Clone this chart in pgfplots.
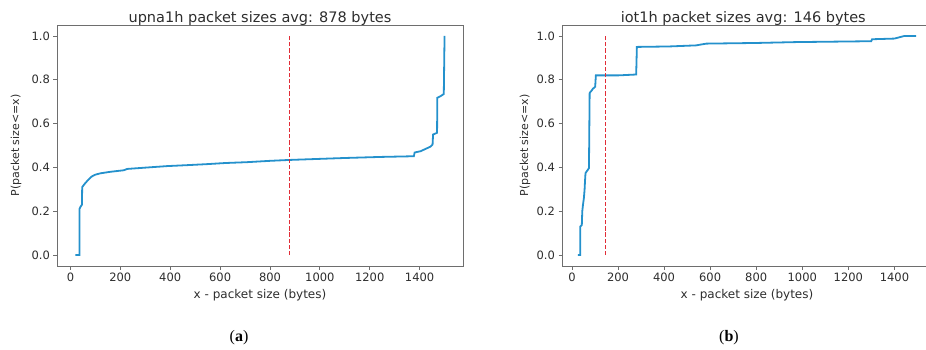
\documentclass[border=0pt]{standalone}
\usepackage{fontspec}
\setmainfont{DejaVu Sans}
\newfontfamily\capfont{Liberation Serif}
\usepackage{pgfplots}
\usepackage{pgfplotstable}
\pgfplotsset{compat=1.18}
\definecolor{cdfblue}{RGB}{36,145,204}
\definecolor{meanred}{RGB}{225,45,55}
\definecolor{spine}{RGB}{110,110,110}
\definecolor{txt}{RGB}{45,45,45}
\pgfplotstableread{
y
0.000
0.019
nan
0.028
0.047
nan
0.056
0.075
nan
0.084
0.103
nan
0.112
0.131
nan
0.140
0.159
nan
0.168
0.187
nan
0.196
0.215
nan
0.224
0.243
nan
0.252
0.271
nan
0.280
0.299
nan
0.308
0.327
nan
0.336
0.355
nan
0.364
0.383
nan
0.392
0.411
nan
0.420
0.439
nan
0.448
0.467
nan
0.476
0.495
nan
0.504
0.523
nan
0.532
0.551
nan
0.560
0.579
nan
0.588
0.607
nan
0.616
0.635
nan
0.644
0.663
nan
0.672
0.691
nan
0.700
0.719
nan
0.728
0.747
nan
0.756
0.775
nan
0.784
0.803
nan
0.812
0.831
nan
0.840
0.859
nan
0.868
0.887
nan
0.896
0.915
nan
0.924
0.943
nan
0.952
0.971
nan
0.980
1.000
}\dashes
\pgfplotsset{
  cdfstyle/.style={
    scale only axis,
    height=241pt,
    ymin=-0.05, ymax=1.05,
    ytick={0,0.2,0.4,0.6,0.8,1.0},
    xtick={0,200,400,600,800,1000,1200,1400},
    yticklabel style={/pgf/number format/.cd,fixed,fixed zerofill,precision=1},
    xticklabel style={/pgf/number format/1000 sep={}},
    /pgf/number format/assume math mode=true,
    scaled ticks=false,
    axis line style={spine, line width=0.9pt},
    tick style={spine, line width=0.8pt},
    tick align=outside,
    major tick length=3.5pt,
    xtick pos=bottom, ytick pos=left,
    ticklabel style={font=\fontsize{11.5}{13}\selectfont, text=txt},
    xlabel style={font=\fontsize{12}{14}\selectfont, text=txt},
    ylabel style={font=\fontsize{11}{13}\selectfont, text=txt},
    title style={font=\fontsize{14.5}{16}\selectfont, text=txt, at={(axis description cs:0.5,1)}, anchor=base, inner sep=0pt, yshift=-3pt},
    xlabel style={at={(axis description cs:0.5,0)}, anchor=base, inner sep=0pt, yshift=-32pt},
    xlabel={x - packet size (bytes)},
    ylabel={P(packet size<=x)},
    avgline/.style={color=meanred, line width=1.4pt, solid, no marks, unbounded coords=jump},
  }
}
\begin{document}
\begin{tikzpicture}
\useasboundingbox (0pt,0pt) rectangle (926pt,349pt);
\begin{axis}[cdfstyle,
  at={(57pt,83pt)}, anchor=south west,
  width=406pt,
  xmin=-54, xmax=1574,
  unbounded coords=jump,
  title={upna1h packet sizes avg: 878 bytes},
  ylabel style={at={(axis description cs:0,0.5)}, anchor=center, inner sep=0pt, yshift=41pt},
]
\addplot[color=cdfblue, line width=1.8pt] coordinates {
(20,0) (36,0) (36,0.21) (40,0.22) (46,0.23) (47,0.31) (57,0.325)
(67,0.338) (77,0.35) (87,0.36) (100,0.367) (120,0.373) (160,0.38)
(214,0.387) (227,0.393) (300,0.399) (388,0.406) (480,0.411) (548,0.415)
(620,0.42) (709,0.424) (800,0.43) (876,0.434) (1000,0.439) (1100,0.443)
(1250,0.448) (1377,0.451) (1380,0.468) (1404,0.474) (1425,0.485) (1444,0.495)
(1452,0.505) (1454,0.55) (1470,0.558) (1471,0.718) (1485,0.726) (1497,0.735) (1500,1.0)
};
\addplot[avgline] table[x expr=878, y=y] {\dashes};
\end{axis}
\begin{axis}[cdfstyle,
  at={(562pt,83pt)}, anchor=south west,
  width=370pt,
  xmin=-43, xmax=1563,
  unbounded coords=jump,
  title={iot1h packet sizes avg: 146 bytes},
  title style={at={(axis description cs:0.49,1)}},
  ylabel style={at={(axis description cs:0,0.5)}, anchor=center, inner sep=0pt, yshift=37pt},
]
\addplot[color=cdfblue, line width=1.8pt] coordinates {
(26,0) (36,0) (36,0.13) (43,0.137) (45,0.2) (48,0.229) (52,0.26) (55,0.298)
(57,0.34) (59,0.374) (69,0.389) (74,0.397) (77,0.74) (85,0.75) (91,0.759)
(101,0.768) (104,0.82) (200,0.82) (279,0.824) (282,0.95) (420,0.952) (539,0.957)
(583,0.965) (800,0.968) (973,0.972) (1299,0.976) (1303,0.985) (1400,0.988)
(1443,1.0) (1494,1.0)
};
\addplot[avgline] table[x expr=146, y=y] {\dashes};
\end{axis}
\node[font=\capfont\fontsize{16}{18}\selectfont, text=black] at (239pt,11pt) {(\textbf{a})};
\node[font=\capfont\fontsize{16}{18}\selectfont, text=black] at (729pt,11pt) {(\textbf{b})};
\end{tikzpicture}
\end{document}
